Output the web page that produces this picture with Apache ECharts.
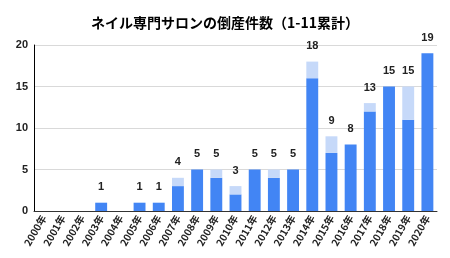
<!DOCTYPE html>
<html>
<head>
<meta charset="utf-8">
<script src="https://cdn.jsdelivr.net/npm/echarts@6/dist/echarts.min.js"></script>
<style>
  html, body { margin: 0; padding: 0; background: #fff; }
  #chart { width: 450px; height: 258px; }
</style>
</head>
<body>
<div id="chart"></div>
<script>
/* ---- data ---- */
const years = ["2000年","2001年","2002年","2003年","2004年","2005年","2006年","2007年","2008年","2009年","2010年",
  "2011年","2012年","2013年","2014年","2015年","2016年","2017年","2018年","2019年","2020年"];
const mainValues = [0,0,0,1,0,1,1,3,5,4,2,5,4,5,16,7,8,12,15,11,19];
const totals     = [0,0,0,1,0,1,1,4,5,5,3,5,5,5,18,9,8,13,15,15,19];
const yTicks = [0, 5, 10, 15, 20];

const restValues = totals.map((t, i) => t - mainValues[i]);

const chart = echarts.init(document.getElementById("chart"), null, { renderer: "canvas" });
chart.setOption({
  animation: false,
  title: {
    text: "ネイル専門サロンの倒産件数（1-11累計）",
    left: "center",
    top: 11,
    textStyle: { fontFamily: "Noto Sans CJK JP", fontSize: 14, fontWeight: "bold", color: "#000" },
  },
  grid: { left: 34, right: 13, top: 45, bottom: 47 },
  xAxis: {
    type: "category",
    data: years,
    axisLine: { lineStyle: { color: "#333", width: 1 } },
    axisTick: { show: false },
    axisLabel: {
      rotate: 60, interval: 0, margin: 5,
      fontFamily: "Noto Sans CJK JP", fontSize: 10, fontWeight: "bold", color: "#222",
    },
  },
  yAxis: {
    type: "value",
    min: yTicks[0], max: yTicks[yTicks.length - 1], interval: 5,
    axisLine: { show: true, lineStyle: { color: "#000", width: 1 } },
    axisTick: { show: false },
    splitLine: { lineStyle: { color: "#d9d9d9", width: 1 } },
    axisLabel: { fontFamily: "Arial, Liberation Sans", fontSize: 11, fontWeight: "bold", color: "#222", margin: 6 },
  },
  series: [
    {
      type: "bar", stack: "n", data: mainValues, barWidth: "62%",
      itemStyle: { color: "#4285f4" },
    },
    {
      type: "bar", stack: "n", data: restValues, barWidth: "62%",
      itemStyle: { color: "#c6d9f9" },
      label: {
        show: true, position: "top", distance: 10,
        fontFamily: "Arial, Liberation Sans", fontSize: 11, fontWeight: "bold", color: "#222",
        formatter: (p) => (totals[p.dataIndex] ? String(totals[p.dataIndex]) : ""),
      },
    },
  ],
});
</script>
</body>
</html>
